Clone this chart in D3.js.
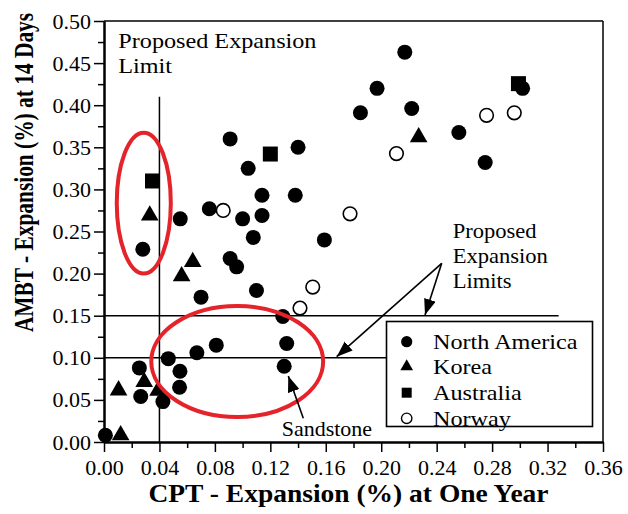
<!DOCTYPE html>
<html>
<head>
<meta charset="utf-8">
<script src="https://cdn.jsdelivr.net/npm/d3@7"></script>
<style>
  html, body { margin: 0; padding: 0; background: #fff; }
  svg { display: block; }
  text { font-family: "Liberation Serif", "Times New Roman", serif; fill: #000; }
</style>
</head>
<body>
<svg id="chart" width="628" height="514"></svg>
<script>
// ---------- data ----------
const seriesNames = ["North America", "Korea", "Australia", "Norway"];

// [CPT expansion at one year (%), AMBT expansion at 14 days (%)]
const northAmerica = [
  [0.001, 0.008], [0.0255, 0.088], [0.0265, 0.054], [0.028, 0.229],
  [0.0425, 0.048], [0.0464, 0.099], [0.0548, 0.084], [0.0545, 0.065],
  [0.055, 0.265], [0.067, 0.106], [0.070, 0.172], [0.076, 0.277],
  [0.081, 0.115], [0.091, 0.360], [0.091, 0.218], [0.0957, 0.208],
  [0.100, 0.265], [0.104, 0.325], [0.1077, 0.243], [0.110, 0.180],
  [0.114, 0.293], [0.114, 0.269], [0.129, 0.149], [0.1318, 0.117],
  [0.130, 0.090], [0.138, 0.293], [0.140, 0.350], [0.159, 0.240],
  [0.185, 0.391], [0.197, 0.420], [0.217, 0.463], [0.222, 0.396],
  [0.256, 0.3675], [0.275, 0.332], [0.302, 0.420]
];
const korea = [
  [0.012, 0.008], [0.0105, 0.0614], [0.029, 0.0713], [0.039, 0.061],
  [0.033, 0.269], [0.056, 0.197], [0.064, 0.2138], [0.227, 0.362]
];
const australia = [
  [0.035, 0.310], [0.120, 0.342], [0.299, 0.4256]
];
const norway = [
  [0.086, 0.275], [0.1414, 0.159], [0.1506, 0.184], [0.1775, 0.271],
  [0.211, 0.3425], [0.276, 0.388], [0.296, 0.391]
];

const xTicks = [0, 0.04, 0.08, 0.12, 0.16, 0.20, 0.24, 0.28, 0.32, 0.36];
const xMinorTicks = [0.02, 0.06, 0.10, 0.14, 0.18, 0.22, 0.26, 0.30, 0.34];
const yTicks = [0, 0.05, 0.10, 0.15, 0.20, 0.25, 0.30, 0.35, 0.40, 0.45, 0.50];
const yMinorTicks = [0.025, 0.075, 0.125, 0.175, 0.225, 0.275, 0.325, 0.375, 0.425, 0.475];

// proposed limits: CPT 0.04 %, AMBT 0.10 % and 0.15 %
const cptLimit = 0.04;
const ambtLimits = [0.10, 0.15];

// ---------- chart ----------
const svg = d3.select("#chart");
const x = d3.scaleLinear().domain([0, 0.36]).range([104, 603]);
const y = d3.scaleLinear().domain([0, 0.5]).range([442, 21]);

// frame (top & right)
svg.append("line").attr("x1", x(0)).attr("x2", x(0.36)).attr("y1", y(0.5)).attr("y2", y(0.5))
  .attr("stroke", "#000").attr("stroke-width", 1.5);
svg.append("line").attr("x1", x(0.36)).attr("x2", x(0.36)).attr("y1", y(0.5)).attr("y2", y(0))
  .attr("stroke", "#000").attr("stroke-width", 1.5);

// limit lines
svg.append("line").attr("x1", x(cptLimit)).attr("x2", x(cptLimit)).attr("y1", y(0)).attr("y2", y(0.41))
  .attr("stroke", "#000").attr("stroke-width", 1.5);
ambtLimits.forEach(v => {
  svg.append("line").attr("x1", x(0)).attr("x2", x(0.328)).attr("y1", y(v)).attr("y2", y(v))
    .attr("stroke", "#000").attr("stroke-width", 1.5);
});

// axes
const fmt = d3.format(".2f");
const gx = svg.append("g").attr("transform", `translate(0,${y(0)})`)
  .call(d3.axisBottom(x).tickValues(xTicks).tickFormat(fmt).tickSize(10).tickSizeOuter(0).tickPadding(7));
const gxm = svg.append("g").attr("transform", `translate(0,${y(0)})`)
  .call(d3.axisBottom(x).tickValues(xMinorTicks).tickFormat("").tickSize(6).tickSizeOuter(0));
const gy = svg.append("g").attr("transform", `translate(${x(0)},0)`)
  .call(d3.axisLeft(y).tickValues(yTicks).tickFormat(fmt).tickSize(10).tickSizeOuter(0).tickPadding(3));
const gym = svg.append("g").attr("transform", `translate(${x(0)},0)`)
  .call(d3.axisLeft(y).tickValues(yMinorTicks).tickFormat("").tickSize(6).tickSizeOuter(0));
[gx, gxm, gy, gym].forEach(g => {
  g.select(".domain").attr("stroke", "#000").attr("stroke-width", 2);
  g.selectAll(".tick line").attr("stroke", "#000").attr("stroke-width", 1.5);
  g.selectAll(".tick text").attr("font-family", "Liberation Serif, serif").attr("font-size", 22).attr("fill", "#000");
});

// points
const tri = d3.symbol().type(d3.symbolTriangle);
const sq = d3.symbol().type(d3.symbolSquare);
svg.append("g").selectAll("circle").data(northAmerica).join("circle")
  .attr("cx", d => x(d[0])).attr("cy", d => y(d[1])).attr("r", 7.5).attr("fill", "#000");
svg.append("g").selectAll("path").data(korea).join("path")
  .attr("transform", d => `translate(${x(d[0])},${y(d[1])})`).attr("d", tri.size(135)()).attr("fill", "#000");
svg.append("g").selectAll("path").data(australia).join("path")
  .attr("transform", d => `translate(${x(d[0])},${y(d[1])})`).attr("d", sq.size(225)()).attr("fill", "#000");
svg.append("g").selectAll("circle").data(norway).join("circle")
  .attr("cx", d => x(d[0])).attr("cy", d => y(d[1])).attr("r", 6.8)
  .attr("fill", "#fff").attr("stroke", "#000").attr("stroke-width", 1.6);

// red ellipses (data units: center x, center y, radius x, radius y)
const ellipses = [[0.0287, 0.2837, 0.0195, 0.0837], [0.0961, 0.0956, 0.062, 0.0659]];
ellipses.forEach(e => {
  svg.append("ellipse")
    .attr("cx", x(e[0])).attr("cy", y(e[1]))
    .attr("rx", x(e[2]) - x(0)).attr("ry", y(0) - y(e[3]))
    .attr("fill", "none").attr("stroke", "#e4232a").attr("stroke-width", 4);
});

// legend
const lg = svg.append("g");
lg.append("rect").attr("x", 386.5).attr("y", 321.5).attr("width", 206).attr("height", 105)
  .attr("fill", "#fff").attr("stroke", "#000").attr("stroke-width", 1.6);
const legRowY = [341.7, 366.7, 392.7, 418.3];
seriesNames.forEach((name, i) => {
  const cy = legRowY[i];
  if (i === 0) lg.append("circle").attr("cx", 406.7).attr("cy", cy).attr("r", 5.6).attr("fill", "#000");
  if (i === 1) lg.append("path").attr("transform", `translate(406.7,${cy})`).attr("d", tri.size(70)()).attr("fill", "#000");
  if (i === 2) lg.append("path").attr("transform", `translate(406.7,${cy})`).attr("d", sq.size(100)()).attr("fill", "#000");
  if (i === 3) lg.append("circle").attr("cx", 406.7).attr("cy", cy).attr("r", 5.2)
    .attr("fill", "#fff").attr("stroke", "#000").attr("stroke-width", 1.4);
  lg.append("text").attr("transform", `translate(433,${cy + 7.6}) scale(1.1,1)`)
    .attr("font-size", 22).text(name);
});

// text helper
function addText(px, py, str, size, weight, anchor) {
  return svg.append("text").attr("transform", `translate(${px},${py}) scale(1.1,1)`)
    .attr("font-size", size).attr("font-weight", weight || "normal")
    .attr("text-anchor", anchor || "start").text(str);
}

// axis titles
addText(348.5, 501.7, "CPT - Expansion (%) at One Year", 25, "bold", "middle");
svg.append("text").attr("transform", "translate(32.5,172.5) rotate(-90) scale(1,1.3)")
  .attr("font-size", 21.4).attr("font-weight", "bold").attr("text-anchor", "middle")
  .text("AMBT - Expansion (%) at 14 Days");

// annotations
addText(118.3, 48.3, "Proposed Expansion", 22);
addText(118.3, 73.3, "Limit", 22);
addText(452.7, 238, "Proposed", 20.5);
addText(452.7, 263, "Expansion", 20.5);
addText(452.7, 288, "Limits", 20.5);
addText(281.7, 435.7, "Sandstone", 20);

// arrows
const defs = svg.append("defs");
defs.append("marker").attr("id", "ah").attr("markerUnits", "userSpaceOnUse")
  .attr("markerWidth", 18).attr("markerHeight", 14).attr("refX", 16).attr("refY", 6)
  .attr("orient", "auto")
  .append("path").attr("d", "M0,0 L16,6 L0,12 Z").attr("fill", "#000");

const arrowSrc = [441.7, 263.3];
[[425, 315], [336.7, 356.7]].forEach(t => {
  svg.append("line").attr("x1", arrowSrc[0]).attr("y1", arrowSrc[1]).attr("x2", t[0]).attr("y2", t[1])
    .attr("stroke", "#000").attr("stroke-width", 1.6).attr("marker-end", "url(#ah)");
});
svg.append("line").attr("x1", 303.3).attr("y1", 418.3).attr("x2", 288.3).attr("y2", 376)
  .attr("stroke", "#000").attr("stroke-width", 1.6).attr("marker-end", "url(#ah)");
</script>
</body>
</html>
